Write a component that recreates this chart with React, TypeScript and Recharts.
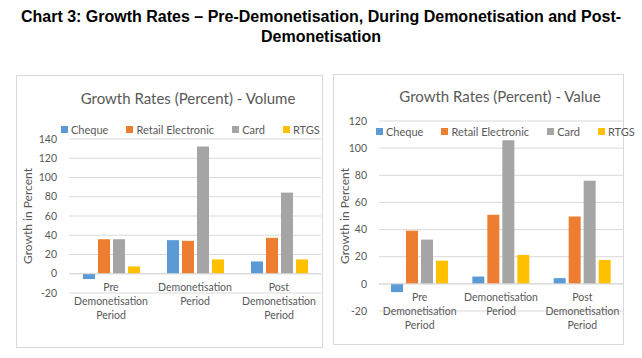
import React from 'react';
import { BarChart, Bar, XAxis, YAxis, CartesianGrid, Legend, ReferenceLine, Label } from 'recharts';

const categories = ['Pre\nDemonetisation\nPeriod', 'Demonetisation\nPeriod', 'Post\nDemonetisation\nPeriod'];
const seriesNames = ['Cheque', 'Retail Electronic', 'Card', 'RTGS'];
const seriesColors = ['#5B9BD5', '#ED7D31', '#A5A5A5', '#FFC000'];

const volumeCheque = [-5.5, 34.9, 12.8];
const volumeRetail = [35.9, 34.2, 37.3];
const volumeCard = [35.9, 132.3, 84.3];
const volumeRtgs = [7.6, 14.9, 14.9];

const valueCheque = [-6.1, 5.4, 4.2];
const valueRetail = [39.2, 50.9, 49.7];
const valueCard = [32.6, 105.8, 75.9];
const valueRtgs = [17.1, 21.3, 17.6];

const volumeTicks = [-20, 0, 20, 40, 60, 80, 100, 120, 140];
const valueTicks = [-20, 0, 20, 40, 60, 80, 100, 120];

const FONT = 'Lato, "DejaVu Sans", sans-serif';
const TEXT = '#595959';
const GRID = '#D9D9D9';

function buildRows(cols: number[][]) {
  return categories.map((category, i) => {
    const row: Record<string, string | number> = { category };
    seriesNames.forEach((name, s) => {
      row[name] = cols[s][i];
    });
    return row;
  });
}

const volumeRows = buildRows([volumeCheque, volumeRetail, volumeCard, volumeRtgs]);
const valueRows = buildRows([valueCheque, valueRetail, valueCard, valueRtgs]);

function CategoryTick(props: any) {
  const { x, y, payload, lift } = props;
  const lines = String(payload.value).split('\n');
  return (
    <text x={x} y={y - lift + 17} textAnchor="middle" fill={TEXT} fontSize={10.5} fontFamily={FONT}>
      {lines.map((l, i) => (
        <tspan key={i} x={x} dy={i === 0 ? 0 : 14}>{l}</tspan>
      ))}
    </text>
  );
}

function LegendRow({ payload }: any) {
  const items = [...(payload || [])].sort(
    (a: any, b: any) => seriesNames.indexOf(a.value) - seriesNames.indexOf(b.value)
  );
  return (
    <div style={{ display: 'flex', alignItems: 'center', whiteSpace: 'nowrap', fontFamily: FONT, fontSize: 11, color: TEXT }}>
      {items.map((p: any, i: number) => (
        <div key={p.value} style={{ display: 'flex', alignItems: 'center', marginLeft: i === 0 ? 0 : 18 }}>
          <span style={{ width: 7, height: 7, background: p.color, marginRight: 3, display: 'inline-block' }} />
          <span>{p.value}</span>
        </div>
      ))}
    </div>
  );
}

interface PanelProps {
  title: string;
  rows: Record<string, string | number>[];
  ticks: number[];
  box: { left: number; top: number; width: number; height: number };
  margin: { top: number; right: number; bottom: number; left: number };
  yWidth: number;
  lift: number;
  titleAt: { x: number; y: number };
  legendAt: { x: number; y: number };
}

function Panel({ title, rows, ticks, box, margin, yWidth, lift, titleAt, legendAt }: PanelProps) {
  return (
    <div style={{ position: 'absolute', left: box.left, top: box.top, width: box.width, height: box.height, border: '1px solid ' + GRID, boxSizing: 'border-box' }}>
      <div style={{ position: 'absolute', left: titleAt.x - 150, top: titleAt.y - 10, width: 300, textAlign: 'center', fontFamily: FONT, fontSize: 15, color: TEXT, lineHeight: '20px', zIndex: 2 }}>
        {title}
      </div>
      <div style={{ position: 'absolute', left: -1, top: -1 }}>
        <BarChart width={box.width} height={box.height} data={rows} margin={margin} barSize={12} barGap={3}>
          <CartesianGrid horizontal vertical={false} stroke={GRID} />
          <XAxis
            dataKey="category"
            axisLine={false}
            tickLine={false}
            tickSize={0}
            tickMargin={0}
            height={1}
            interval={0}
            tick={(p: any) => <CategoryTick {...p} lift={lift} />}
          />
          <YAxis
            width={yWidth}
            domain={[ticks[0], ticks[ticks.length - 1]]}
            ticks={ticks}
            interval={0}
            axisLine={false}
            tickLine={false}
            tickSize={0}
            tickMargin={12}
            tick={{ fill: TEXT, fontSize: 10.5, fontFamily: FONT }}
          >
            <Label
              content={({ viewBox }: any) => {
                const cx = viewBox.x + 11;
                const cy = viewBox.y + viewBox.height / 2;
                return (
                  <text x={cx} y={cy} transform={`rotate(-90, ${cx}, ${cy})`} textAnchor="middle" dominantBaseline="central" fill={TEXT} fontSize={12} fontFamily={FONT}>
                    Growth in Percent
                  </text>
                );
              }}
            />
          </YAxis>
          <ReferenceLine y={0} stroke={GRID} />
          <Legend
            verticalAlign="middle"
            align="center"
            layout="horizontal"
            wrapperStyle={{ top: legendAt.y - 8, left: legendAt.x, width: 'auto', height: 16 }}
            content={<LegendRow />}
          />
          {seriesNames.map((name, i) => (
            <Bar key={name} dataKey={name} fill={seriesColors[i]} isAnimationActive={false} />
          ))}
        </BarChart>
      </div>
    </div>
  );
}

export default function App() {
  return (
    <div style={{ position: 'absolute', left: 0, top: 0, width: 642, height: 358, background: '#fff', overflow: 'hidden' }}>
      <div style={{ position: 'absolute', left: 0, top: 7, width: 642, textAlign: 'center', fontFamily: '"Liberation Sans", Arial, sans-serif', fontWeight: 700, fontSize: 16, lineHeight: '19.5px', color: '#000' }}>
        Chart 3: Growth Rates – Pre-Demonetisation, During Demonetisation and Post-
        <br />
        Demonetisation
      </div>
      <Panel
        title="Growth Rates (Percent) - Volume"
        rows={volumeRows}
        ticks={volumeTicks}
        box={{ left: 16, top: 75, width: 307, height: 273 }}
        margin={{ top: 64, right: 2, bottom: 54, left: 0 }}
        yWidth={53}
        lift={19.4}
        titleAt={{ x: 171, y: 22 }}
        legendAt={{ x: 45, y: 56 }}
      />
      <Panel
        title="Growth Rates (Percent) - Value"
        rows={valueRows}
        ticks={valueTicks}
        box={{ left: 333, top: 74, width: 291, height: 271 }}
        margin={{ top: 47, right: 1, bottom: 33, left: 0 }}
        yWidth={46}
        lift={27.2}
        titleAt={{ x: 166, y: 21 }}
        legendAt={{ x: 43, y: 59 }}
      />
    </div>
  );
}
